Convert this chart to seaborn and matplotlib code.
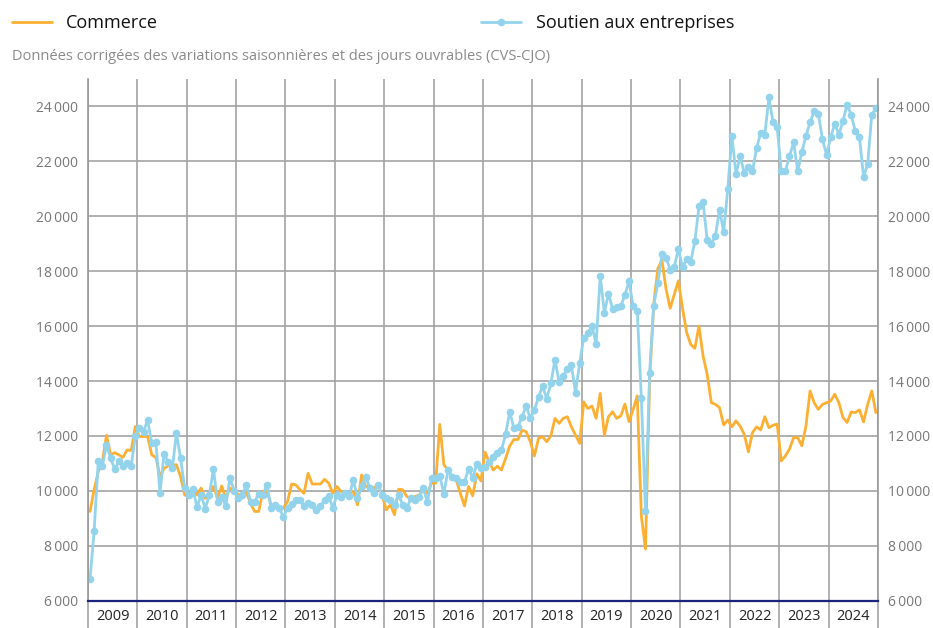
import numpy as np
import pandas as pd
import seaborn as sns
import matplotlib.pyplot as plt
from matplotlib.ticker import FuncFormatter

sns.set_theme(style='white')
plt.rcParams['font.family'] = ['Open Sans', 'DejaVu Sans']

years = list(range(2009, 2025))
y_ticks = list(range(6000, 24001, 2000))
subtitle = 'Données corrigées des variations saisonnières et des jours ouvrables (CVS-CJO)'

# monthly values, janvier 2009 -> décembre 2024
commerce = [
    9250, 10050, 10700, 11050, 12030, 11310, 11390, 11310, 11220, 11490, 11470, 12340,
    11980, 11980, 11980, 11310, 11220, 10520, 10820, 10910, 10950, 10950, 10520, 9850,
    9790, 10100, 9850, 10100, 9730, 9910, 10160, 9730, 10180, 9730, 10100, 10040,
    9850, 9910, 9940, 9550, 9250, 9250, 9980, 9980, 9490, 9490, 9430, 9370,
    9610, 10250, 10220, 10040, 9910, 10640, 10250, 10250, 10250, 10420, 10280, 9910,
    10160, 9980, 9910, 9910, 9980, 9490, 10580, 10160, 10160, 10100, 10220, 9850,
    9310, 9490, 9130, 10060, 10040, 9790, 9730, 9790, 9850, 10040, 9910, 10280,
    10280, 12420, 10950, 10760, 10500, 10400, 9910, 9450, 10160, 9820, 10620, 10360,
    11410, 11060, 10760, 10900, 10760, 11180, 11630, 11870, 11870, 12210, 12150, 11790,
    11270, 11910, 11970, 11790, 12000, 12640, 12460, 12640, 12700, 12330, 12030, 11730,
    13240, 13000, 13090, 12640, 13550, 12030, 12700, 12880, 12640, 12730, 13160, 12520,
    12960, 13460, 9070, 7880, 14000, 16800, 18100, 18400, 17350, 16650, 17150, 17650,
    16650, 15770, 15330, 15190, 16000, 14910, 14240, 13210, 13150, 13030, 12400, 12580,
    12330, 12550, 12360, 12060, 11420, 12120, 12330, 12220, 12700, 12300, 12390, 12430,
    11090, 11270, 11520, 11940, 11940, 11640, 12360, 13640, 13210, 12970, 13150, 13210,
    13270, 13520, 13210, 12670, 12490, 12870, 12850, 12950, 12510, 13150, 13640, 12850,
]
soutien = [
    6800, 8550, 11070, 10910, 11670, 11190, 10790, 11070, 10910, 11030, 10910, 11980,
    12300, 12160, 12580, 11730, 11770, 9940, 11350, 11040, 10820, 12100, 11190, 10100,
    9850, 10060, 9410, 9850, 9350, 9850, 10800, 9580, 9790, 9450, 10480, 10010,
    9730, 9850, 10220, 9610, 9610, 9890, 9850, 10220, 9370, 9490, 9370, 9040,
    9370, 9530, 9670, 9670, 9450, 9550, 9490, 9310, 9450, 9670, 9830, 9370,
    9850, 9790, 9910, 9820, 10400, 9730, 10160, 10520, 10100, 9910, 10220, 9850,
    9730, 9670, 9490, 9850, 9490, 9370, 9730, 9670, 9790, 10100, 9580, 10460,
    10460, 10550, 9890, 10760, 10490, 10460, 10330, 10330, 10790, 10480, 10970, 10850,
    10860, 11060, 11220, 11370, 11490, 12060, 12880, 12300, 12330, 12700, 13100, 12640,
    12940, 13420, 13810, 13360, 13910, 14780, 13970, 14180, 14450, 14570, 13580, 14660,
    15580, 15750, 15990, 15360, 17830, 16490, 17180, 16630, 16690, 16720, 17140, 17630,
    16720, 16550, 13390, 9250, 14290, 16750, 17560, 18630, 18490, 18050, 18170, 18810,
    18140, 18440, 18350, 19090, 20360, 20510, 19120, 18990, 19300, 20240, 19430, 20990,
    22930, 21540, 22180, 21580, 21790, 21640, 22490, 23030, 22970, 24330, 23430, 23250,
    21640, 21640, 22180, 22700, 21640, 22340, 22930, 23420, 23840, 23730, 22810, 22240,
    22870, 23370, 22970, 23480, 24060, 23700, 23090, 22890, 21430, 21900, 23700, 23940,
]

months = pd.date_range('2009-01-01', periods=len(commerce), freq='MS')
df = pd.DataFrame({'date': months, 'Commerce': commerce, 'Soutien aux entreprises': soutien})
df['x'] = df['date'].dt.year + (df['date'].dt.month - 0.5) / 12

fig = plt.figure(figsize=(9.33, 6.28), dpi=100)
ax = fig.add_axes([0.0943, 0.0435, 0.8467, 0.8307])

grid_col = '#a3a3a3'
sns.lineplot(data=df, x='x', y='Commerce', color='#FBB034', lw=2.0, ax=ax, label='Commerce')
sns.lineplot(data=df, x='x', y='Soutien aux entreprises', color='#93D3EC', lw=2.0,
             marker='o', markersize=5.5, markeredgewidth=0, ax=ax,
             label='Soutien aux entreprises')

ax.set_xlim(2009, 2025)
ax.set_ylim(6000, 25000)
ax.set_yticks(y_ticks)
ax.yaxis.set_major_formatter(FuncFormatter(lambda v, p: f'{int(v):,}'.replace(',', '\u2009')))
ax.set_xticks([y + 0.5 for y in years])
ax.set_xticklabels([str(y) for y in years])
ax.set_xticks(range(2009, 2026), minor=True)
ax.tick_params(axis='x', which='major', bottom=False, length=0, pad=6,
               labelsize=10.5, labelcolor='#222222')
ax.tick_params(axis='x', which='minor', bottom=True, length=20, width=1.2,
               color=grid_col, direction='out')
ax.tick_params(axis='y', which='major', left=False, right=False, length=0,
               labelsize=10, labelcolor='#777777', labelright=True, pad=7)
ax.grid(which='minor', axis='x', color=grid_col, lw=1.2)
ax.grid(which='major', axis='y', color=grid_col, lw=1.2)
ax.set_axisbelow(True)
ax.set_xlabel('')
ax.set_ylabel('')

ax.spines['top'].set_visible(False)
for side in ['left', 'right']:
    ax.spines[side].set_color('#999999')
    ax.spines[side].set_linewidth(1.2)
ax.spines['bottom'].set_color('#1b237a')
ax.spines['bottom'].set_linewidth(1.6)

handles, labels = ax.get_legend_handles_labels()
ax.get_legend().remove()
fig.legend(handles, labels, loc='upper left', bbox_to_anchor=(12 / 933, 1 - 14 / 628),
           ncol=2, frameon=False, fontsize=13, handlelength=2.2, handletextpad=0.8,
           columnspacing=17.9, borderpad=0, borderaxespad=0, labelcolor='#111111')

fig.text(12 / 933, 1 - 57 / 628, subtitle, color='#8a8a8a', fontsize=10.5, va='center')

fig.savefig('out.png', dpi=100)
